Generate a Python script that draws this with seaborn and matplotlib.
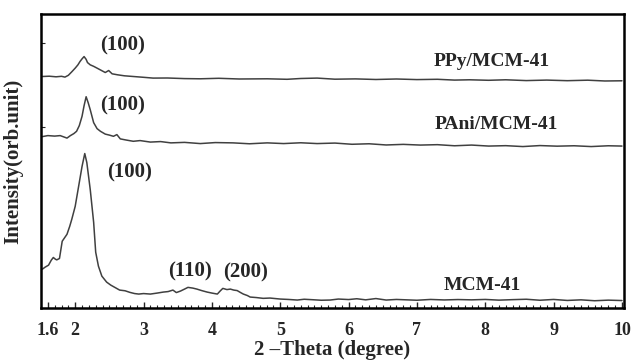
import matplotlib
matplotlib.use("Agg")
import matplotlib.pyplot as plt
import seaborn as sns
import numpy as np
import pandas as pd
from matplotlib.ticker import MultipleLocator

# 2-theta (degree) and intensity (arb. units)
mcm_theta = [1.52, 1.56, 1.61, 1.65, 1.68, 1.71, 1.73, 1.77, 1.81, 1.85, 1.88, 1.92, 1.95,
             2.00, 2.05, 2.10, 2.14, 2.17, 2.22, 2.27, 2.30, 2.34, 2.39, 2.46, 2.52, 2.58,
             2.65, 2.73, 2.80, 2.87, 2.93, 3.00, 3.10, 3.20, 3.29, 3.36, 3.43, 3.48, 3.54,
             3.60, 3.65, 3.72, 3.78, 3.85, 3.93, 4.00, 4.08, 4.12, 4.16, 4.22, 4.27, 4.32,
             4.37, 4.42, 4.46, 4.52, 4.56, 4.65, 4.75, 4.85, 5.00, 5.12, 5.25, 5.35, 5.48,
             5.60, 5.73, 5.85, 6.00, 6.12, 6.25, 6.40, 6.55, 6.70, 6.85, 7.00, 7.20, 7.40,
             7.60, 7.80, 8.00, 8.20, 8.40, 8.60, 8.80, 9.00, 9.20, 9.40, 9.60, 9.80, 10.00]
mcm_int = [39, 41, 43, 48, 50.7, 49, 48.3, 49.7, 67, 71, 74, 82, 89,
           102, 122, 142, 155, 146, 119, 86, 56, 42, 32, 26, 23, 20.7,
           18, 17.3, 15.7, 14.5, 14, 14.5, 14, 15, 16, 16.5, 18, 15.5, 17,
           19, 20.7, 20, 19, 17.5, 16, 15, 14, 17, 19.7, 18.5, 19, 18,
           17.5, 15.5, 14, 12.5, 11, 10.5, 9.7, 10, 9, 8.6, 8, 8.8, 8.3,
           7.8, 8, 9, 8.5, 9.3, 8.2, 9.5, 8, 8.6, 8.2, 7.8, 8.6, 8.1,
           8.5, 8.2, 8.6, 7.9, 8.4, 8.8, 7.8, 8.6, 7.6, 8.2, 7.3, 7.9, 7.5]

pani_theta = [1.52, 1.60, 1.70, 1.78, 1.84, 1.88, 1.93, 1.98, 2.02, 2.06, 2.10, 2.13, 2.16,
              2.19, 2.22, 2.27, 2.32, 2.37, 2.44, 2.50, 2.56, 2.61, 2.66, 2.75, 2.85, 2.95,
              3.10, 3.25, 3.40, 3.60, 3.83, 4.05, 4.31, 4.55, 4.81, 5.05, 5.30, 5.54, 5.80,
              6.05, 6.30, 6.55, 6.80, 7.05, 7.30, 7.55, 7.80, 8.05, 8.30, 8.55, 8.80, 9.05,
              9.30, 9.55, 9.80, 10.00]
pani_int = [172, 173, 172.5, 173, 171.5, 170.5, 173, 175, 177.3, 183, 192.3, 203, 212,
            206, 199, 186, 180, 177.3, 174.5, 173.5, 172.3, 174, 169.7, 168.5, 167.3, 168,
            166.5, 167, 165.7, 166.2, 165, 166, 165.7, 164.8, 165.7, 165, 165.8, 165, 165.5,
            164.3, 164.8, 163.6, 164.2, 163.5, 163.9, 162.8, 163.5, 162.5, 162.9, 162, 163, 162.4,
            162.8, 162, 162.8, 162.5]

ppy_theta = [1.52, 1.62, 1.72, 1.80, 1.85, 1.90, 1.95, 2.00, 2.04, 2.07, 2.10, 2.13, 2.16,
             2.18, 2.22, 2.27, 2.32, 2.38, 2.44, 2.49, 2.54, 2.62, 2.72, 2.85, 3.00, 3.14,
             3.35, 3.60, 3.83, 4.10, 4.40, 4.81, 5.10, 5.30, 5.54, 5.80, 6.10, 6.40, 6.70,
             7.00, 7.30, 7.55, 7.77, 8.05, 8.30, 8.60, 8.90, 9.20, 9.50, 9.75, 10.00]
ppy_int = [232.3, 232.6, 232, 232.5, 231.7, 233.5, 237, 240.7, 244, 247.3, 250, 252.3, 249.5,
           246.3, 244, 242.5, 240.7, 238.5, 236.3, 238.3, 235, 234, 233, 232.3, 231.5, 230.7,
           230.8, 230.2, 230, 230.5, 229.8, 230, 229.5, 230.3, 230.7, 229.6, 229.9, 229.3, 229.8,
           229.2, 229.5, 228.7, 229, 228.5, 229, 228.2, 228.7, 228.1, 228.6, 227.8, 228]

x_ticks = [1.6, 2, 3, 4, 5, 6, 7, 8, 9, 10]
x_tick_labels = ["1.6", "2", "3", "4", "5", "6", "7", "8", "9", "10"]

# (text, theta, intensity) for the annotations
peak_labels = [("(100)", 2.70, 263), ("(100)", 2.70, 203), ("(100)", 2.80, 136),
               ("(110)", 3.68, 37), ("(200)", 4.50, 36)]
sample_labels = [("PPy/MCM-41", 8.10, 247), ("PAni/MCM-41", 8.16, 184), ("MCM-41", 7.95, 23)]

sns.set_style("ticks")
plt.rcParams['font.family'] = ['Liberation Serif', 'DejaVu Serif']
plt.rcParams['font.weight'] = 'bold'

fig = plt.figure(figsize=(6.33, 3.64), dpi=100)
ax = fig.add_axes([0.0648, 0.1538, 0.921, 0.8077])

line_color = "#404040"
for th, inten in [(mcm_theta, mcm_int), (pani_theta, pani_int), (ppy_theta, ppy_int)]:
    df = pd.DataFrame({"theta": th, "intensity": inten})
    sns.lineplot(data=df, x="theta", y="intensity", ax=ax, color=line_color,
                 lw=1.1, sort=False, estimator=None)

for txt, x, y in peak_labels:
    ax.text(x, y, txt, ha="center", va="center", fontsize=15, fontweight="bold")
for txt, x, y in sample_labels:
    ax.text(x, y, txt, ha="center", va="center", fontsize=14, fontweight="bold")

ax.set_xlim(1.5, 10.03)
ax.set_ylim(0, 295)
ax.set_xticks(x_ticks)
ax.set_xticklabels(x_tick_labels, fontsize=13, fontweight="bold")
ax.xaxis.set_minor_locator(MultipleLocator(0.1))
ax.tick_params(axis="x", which="major", direction="in", length=4, width=1, pad=10)
ax.tick_params(axis="x", which="minor", direction="in", length=2.5, width=0.8)
ax.set_yticks([182, 266])
ax.set_yticklabels([])
ax.tick_params(axis="y", direction="in", length=3, width=0.8)

for sp in ax.spines.values():
    sp.set_linewidth(1.8)
    sp.set_color("black")

ax.set_xlabel("2 \u2013Theta (degree)", fontsize=15, fontweight="bold", labelpad=1)
ax.set_ylabel("Intensity(orb.unit)", fontsize=15, fontweight="bold", labelpad=9)

fig.savefig("out.png", dpi=100)
